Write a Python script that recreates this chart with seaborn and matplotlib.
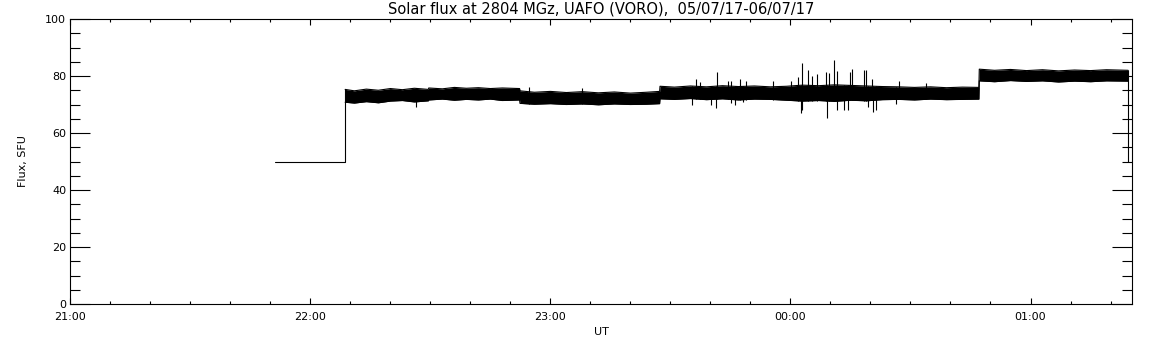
import numpy as np
import pandas as pd
import seaborn as sns
import matplotlib.pyplot as plt
from matplotlib.ticker import FixedLocator, MultipleLocator, FuncFormatter

# time is in minutes after 21:00 UT (05/07/17)
base_t = [51.2, 68.7]
base_flux = [50, 50]

# envelope of the noisy record
band_t = [68.7, 71, 74, 77, 80, 83, 86, 89.5,
          89.6, 93, 96, 99, 102, 105, 108, 112.3,
          112.4, 116, 120, 124, 128, 132, 136, 140, 144, 147.3,
          147.4, 151, 155, 159, 163, 167, 171, 175, 179, 183, 187, 191,
          195, 199, 203, 207, 211, 215, 219, 223, 227.1,
          227.2, 231, 235, 239, 243, 247, 251, 255, 259, 264.4]
band_hi = [75.3, 74.8, 75.4, 75.0, 75.6, 75.2, 75.7, 75.3,
           75.8, 75.5, 76.0, 75.7, 75.9, 75.6, 75.8, 75.6,
           74.8, 74.3, 74.6, 74.2, 74.5, 74.1, 74.4, 74.0, 74.3, 74.6,
           76.4, 76.1, 76.5, 76.2, 76.6, 76.3, 76.5, 76.2, 76.4, 76.8,
           76.6, 76.9, 76.7, 76.5, 76.3, 76.2, 76.0, 76.2, 75.9, 76.1, 76.0,
           82.4, 82.0, 82.3, 81.9, 82.2, 81.8, 82.1, 81.9, 82.2, 82.0]
band_lo = [70.8, 70.5, 71.0, 70.6, 71.2, 71.4, 70.9, 71.3,
           71.6, 71.9, 71.5, 71.8, 71.6, 71.9, 71.4, 71.6,
           70.4, 70.1, 70.3, 70.0, 70.2, 69.9, 70.2, 70.0, 70.1, 70.3,
           72.0, 71.8, 72.1, 71.7, 72.0, 71.6, 71.9, 71.8, 71.5, 71.2,
           71.4, 71.1, 71.5, 71.3, 71.7, 71.8, 71.6, 71.9, 71.7, 71.8, 71.9,
           78.3, 78.0, 78.4, 78.1, 78.3, 77.9, 78.2, 78.0, 78.3, 78.2]

# bursts sticking out of the band
up_t = [114.6, 128.0, 156.4, 157.5, 161.6, 164.4, 165.2, 167.4, 168.9,
        175.7, 180.2, 182.0, 182.8, 184.4, 185.4, 186.6, 188.9, 189.7,
        190.9, 191.7, 194.9, 195.4, 198.4, 198.9, 200.5, 207.1, 214.0]
up_flux = [76.0, 75.8, 78.9, 78.0, 81.5, 78.3, 78.2, 78.8, 78.3,
           78.2, 78.2, 79.5, 84.6, 82.0, 80.1, 80.7, 81.5, 81.0,
           85.6, 81.9, 81.3, 82.5, 82.0, 82.1, 79.0, 78.2, 77.5]
dn_t = [86.3, 155.5, 160.2, 161.4, 165.1, 166.2, 168.2, 182.7, 182.9,
        189.2, 191.7, 193.4, 194.4, 199.4, 200.7, 201.4, 206.4]
dn_flux = [69.1, 70.0, 69.8, 68.7, 70.6, 69.9, 70.9, 67.1, 68.1,
           65.4, 68.1, 68.0, 68.1, 69.0, 67.5, 67.9, 70.2]

end_t = 264.4
x_max = 265.3
hour_labels = ["21:00", "22:00", "23:00", "00:00", "01:00"]

sns.set_style("white")
plt.rcParams['font.family'] = ['DejaVu Sans']
plt.rcParams.update({"text.color": "black", "axes.labelcolor": "black",
                     "xtick.color": "black", "ytick.color": "black"})

fig = plt.figure(figsize=(11.52, 3.45), dpi=100)
ax = fig.add_axes([0.061, 0.1188, 0.9214, 0.8261])

band = pd.DataFrame({"t": band_t, "hi": band_hi, "lo": band_lo})
ax.fill_between(band["t"], band["lo"], band["hi"], color="black", lw=0)
sns.lineplot(data=band, x="t", y="hi", color="black", lw=0.8, ax=ax)
sns.lineplot(data=band, x="t", y="lo", color="black", lw=0.8, ax=ax)
sns.lineplot(x=base_t, y=base_flux, color="black", lw=0.8, ax=ax)

# jumps at start and end of record
ax.vlines([base_t[-1]], base_flux[-1], band_hi[0], color="black", lw=0.8)
ax.vlines([end_t], base_flux[0], band_hi[-1], color="black", lw=0.8)

# spikes
up_lo = np.interp(up_t, band_t, band_lo)
ax.vlines(up_t, up_lo, up_flux, color="black", lw=0.8)
dn_hi = np.interp(dn_t, band_t, band_hi)
ax.vlines(dn_t, dn_flux, dn_hi, color="black", lw=0.8)

ax.set_xlim(0, x_max)
ax.set_ylim(0, 100)
ax.xaxis.set_major_locator(FixedLocator([0, 60, 120, 180, 240]))
ax.xaxis.set_major_formatter(FuncFormatter(lambda v, p: hour_labels[int(round(v / 60))]))
ax.xaxis.set_minor_locator(MultipleLocator(10))
ax.yaxis.set_major_locator(MultipleLocator(20))
ax.yaxis.set_minor_locator(MultipleLocator(5))

ax.tick_params(axis="x", which="both", direction="in", top=True, bottom=True,
               labelsize=8, pad=6, width=0.8, color="black")
ax.tick_params(axis="x", which="major", length=4)
ax.tick_params(axis="x", which="minor", length=2)
ax.tick_params(axis="y", which="both", direction="in", left=True, right=True,
               labelsize=8, pad=3, width=0.8, color="black")
ax.tick_params(axis="y", which="major", length=14.4)
ax.tick_params(axis="y", which="minor", length=7.2)

for s in ax.spines.values():
    s.set_visible(True)
    s.set_color("black")
    s.set_linewidth(0.8)

ax.set_xlabel("UT", fontsize=8, labelpad=3)
ax.set_ylabel("Flux, SFU", fontsize=8, labelpad=12)
ax.set_title("Solar flux at 2804 MGz, UAFO (VORO),  05/07/17-06/07/17",
             fontsize=10.5, pad=4)

fig.savefig("out.png", dpi=100, facecolor="white")
